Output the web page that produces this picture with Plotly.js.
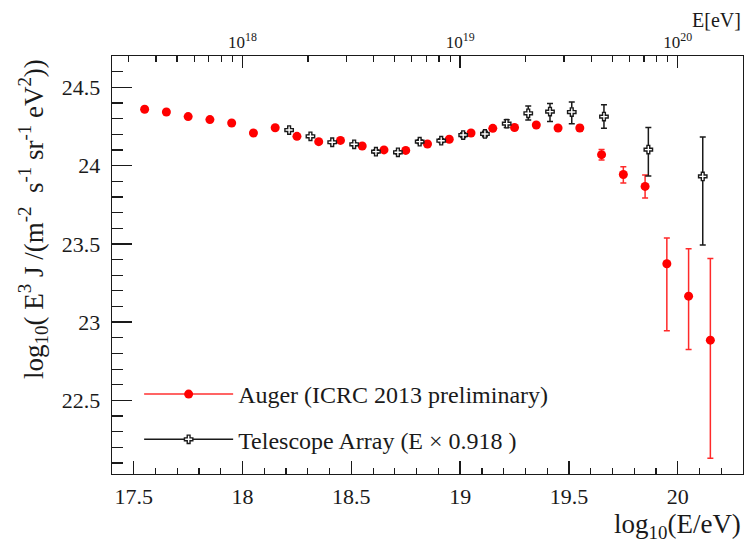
<!DOCTYPE html>
<html>
<head>
<meta charset="utf-8">
<script src="https://cdn.plot.ly/plotly-3.0.1.min.js"></script>
<style>
  html, body { margin: 0; padding: 0; background: #fff; }
  #chart { width: 748px; height: 545px; }
</style>
</head>
<body>
<div id="chart"></div>
<script>
// Auger spectrum (ICRC 2013 preliminary): log10(E/eV) bin centres and log10(E^3 J)
const augerLogE = [17.55, 17.65, 17.75, 17.85, 17.95, 18.05, 18.15, 18.25, 18.35, 18.45,
                   18.55, 18.65, 18.75, 18.85, 18.95, 19.05, 19.15, 19.25, 19.35, 19.45,
                   19.55, 19.65, 19.75, 19.85, 19.95, 20.05, 20.15];
const augerFlux = [24.360, 24.342, 24.313, 24.294, 24.272, 24.208, 24.242, 24.187, 24.153, 24.161,
                   24.125, 24.100, 24.097, 24.138, 24.168, 24.208, 24.238, 24.243, 24.259, 24.240,
                   24.240, 24.070, 23.943, 23.867, 23.373, 23.166, 22.885];
const augerErrUp = [0.004, 0.004, 0.004, 0.004, 0.004, 0.004, 0.004, 0.005, 0.005, 0.005,
                    0.005, 0.006, 0.006, 0.006, 0.007, 0.008, 0.009, 0.010, 0.012, 0.014,
                    0.018, 0.032, 0.050, 0.073, 0.164, 0.303, 0.522];
const augerErrDown = [0.004, 0.004, 0.004, 0.004, 0.004, 0.004, 0.004, 0.005, 0.005, 0.005,
                      0.005, 0.006, 0.006, 0.006, 0.007, 0.008, 0.009, 0.010, 0.012, 0.014,
                      0.018, 0.034, 0.054, 0.074, 0.428, 0.340, 0.754];

// Telescope Array spectrum with energies scaled by 0.918
const taLogE = [18.214, 18.312, 18.412, 18.513, 18.613, 18.714, 18.814, 18.913, 19.014, 19.114,
                19.214, 19.313, 19.413, 19.513, 19.661, 19.865, 20.115];
const taFlux = [24.227, 24.187, 24.149, 24.136, 24.089, 24.085, 24.153, 24.159, 24.195, 24.202,
                24.268, 24.334, 24.345, 24.342, 24.313, 24.102, 23.931];
const taErrUp = [0.006, 0.006, 0.008, 0.008, 0.010, 0.010, 0.012, 0.012, 0.015, 0.017,
                 0.025, 0.047, 0.051, 0.064, 0.075, 0.141, 0.251];
const taErrDown = [0.006, 0.006, 0.008, 0.008, 0.010, 0.010, 0.012, 0.012, 0.015, 0.017,
                   0.025, 0.043, 0.064, 0.075, 0.075, 0.168, 0.439];

// Legend labels and the energy labels of the upper axis
const augerName = 'Auger (ICRC 2013 preliminary)';
const taName = 'Telescope Array (E \u00d7 0.918 )';
const decadeTicks = [18, 19, 20];
const decadeLabels = ['10<sup>18</sup>', '10<sup>19</sup>', '10<sup>20</sup>'];

const xRange = [17.4, 20.3];
const yRange = [22.03, 24.7];

// minor ticks of the energy axis: k * 10^n in log10 units
const decadeMinor = [];
for (let n = 17; n <= 20; n++) {
  for (let k = 2; k <= 9; k++) {
    const v = n + Math.log10(k);
    if (v > xRange[0] && v < xRange[1]) decadeMinor.push(v);
  }
}

const SERIF = 'Liberation Serif, Times New Roman, serif';
const RED = '#ff0000';
const INK = '#1a1a1a';

const traces = [
  {
    x: augerLogE, y: augerFlux, type: 'scatter', mode: 'markers',
    showlegend: false, hoverinfo: 'x+y',
    marker: { color: RED, size: 9, symbol: 'circle' },
    error_y: { type: 'data', symmetric: false, array: augerErrUp, arrayminus: augerErrDown,
               color: '#ff2a2a', thickness: 1.5, width: 3 }
  },
  {
    x: taLogE, y: taFlux, type: 'scatter', mode: 'markers',
    showlegend: false, hoverinfo: 'x+y',
    marker: { color: '#ffffff', size: 7, symbol: 'cross', line: { color: INK, width: 1.4 } },
    error_y: { type: 'data', symmetric: false, array: taErrUp, arrayminus: taErrDown,
               color: INK, thickness: 1.5, width: 3 }
  },
  // legend keys (line + marker)
  {
    x: [null], y: [null], type: 'scatter', mode: 'lines+markers', name: augerName,
    legendgroup: 'a',
    line: { color: '#ff3030', width: 1.5 },
    marker: { color: RED, size: 9, symbol: 'circle' }
  },
  {
    x: [null], y: [null], type: 'scatter', mode: 'lines+markers', name: taName,
    legendgroup: 'b',
    line: { color: INK, width: 1.5 },
    marker: { color: '#ffffff', size: 7, symbol: 'cross', line: { color: INK, width: 1.4 } }
  },
  // carrier for the upper energy axis
  {
    x: xRange, y: [null, null], xaxis: 'x2', yaxis: 'y', type: 'scatter', mode: 'markers',
    showlegend: false, hoverinfo: 'skip'
  }
];

const layout = {
  width: 748, height: 545,
  margin: { l: 112, r: 5, t: 56, b: 71 },
  paper_bgcolor: '#ffffff', plot_bgcolor: '#ffffff',
  font: { family: SERIF, color: INK, size: 22 },
  showlegend: true,
  legend: {
    x: 0.043, y: 0.244, xanchor: 'left', yanchor: 'top',
    bgcolor: 'rgba(0,0,0,0)', borderwidth: 0,
    font: { family: SERIF, size: 24, color: INK },
    itemwidth: 89, traceorder: 'grouped', tracegroupgap: 11
  },
  xaxis: {
    range: xRange, showgrid: false, zeroline: false,
    showline: true, linecolor: INK, linewidth: 1.3,
    ticks: 'inside', ticklen: 13, tickwidth: 1.3, tickcolor: INK,
    tick0: 0, dtick: 0.5, ticklabelstandoff: 2,
    tickfont: { family: SERIF, size: 22, color: INK },
    minor: { dtick: 0.1, tick0: 0, ticks: 'inside', ticklen: 6, tickwidth: 1.2, tickcolor: INK }
  },
  xaxis2: {
    overlaying: 'x', side: 'top', anchor: 'y', range: xRange,
    showgrid: false, zeroline: false,
    showline: true, linecolor: INK, linewidth: 1.3,
    ticks: 'inside', ticklen: 12, tickwidth: 1.3, tickcolor: INK,
    tickmode: 'array', tickvals: decadeTicks, ticktext: decadeLabels,
    tickfont: { family: SERIF, size: 17, color: INK },
    minor: { tickmode: 'array', tickvals: decadeMinor, ticks: 'inside', ticklen: 6,
             tickwidth: 1.2, tickcolor: INK }
  },
  yaxis: {
    range: yRange, showgrid: false, zeroline: false,
    showline: true, mirror: true, linecolor: INK, linewidth: 1.3,
    ticks: 'inside', ticklen: 20, tickwidth: 1.3, tickcolor: INK,
    tick0: 0, dtick: 0.5, ticklabelstandoff: 6,
    tickfont: { family: SERIF, size: 22, color: INK },
    minor: { dtick: 0.1, tick0: 0, ticks: 'inside', ticklen: 11, tickwidth: 1.2, tickcolor: INK }
  },
  annotations: [
    {
      text: 'log<sub>10</sub>( E<sup>3</sup> J /(m<sup>-2</sup>  s<sup>-1</sup> sr<sup>-1</sup> eV<sup>2</sup>))',
      xref: 'paper', yref: 'paper', x: -0.125, y: 0.998, xanchor: 'center', yanchor: 'top',
      textangle: -90, showarrow: false, font: { family: SERIF, size: 27, color: INK }
    },
    {
      text: 'log<sub>10</sub>(E/eV)',
      xref: 'paper', yref: 'paper', x: 1.0, y: -0.08, xanchor: 'right', yanchor: 'top',
      showarrow: false, font: { family: SERIF, size: 27, color: INK }
    },
    {
      text: 'E[eV]',
      xref: 'paper', yref: 'paper', x: 1.0, y: 1.118, xanchor: 'right', yanchor: 'top',
      showarrow: false, font: { family: SERIF, size: 20, color: INK }
    }
  ]
};

Plotly.newPlot('chart', traces, layout, { staticPlot: true, displayModeBar: false });
</script>
</body>
</html>
